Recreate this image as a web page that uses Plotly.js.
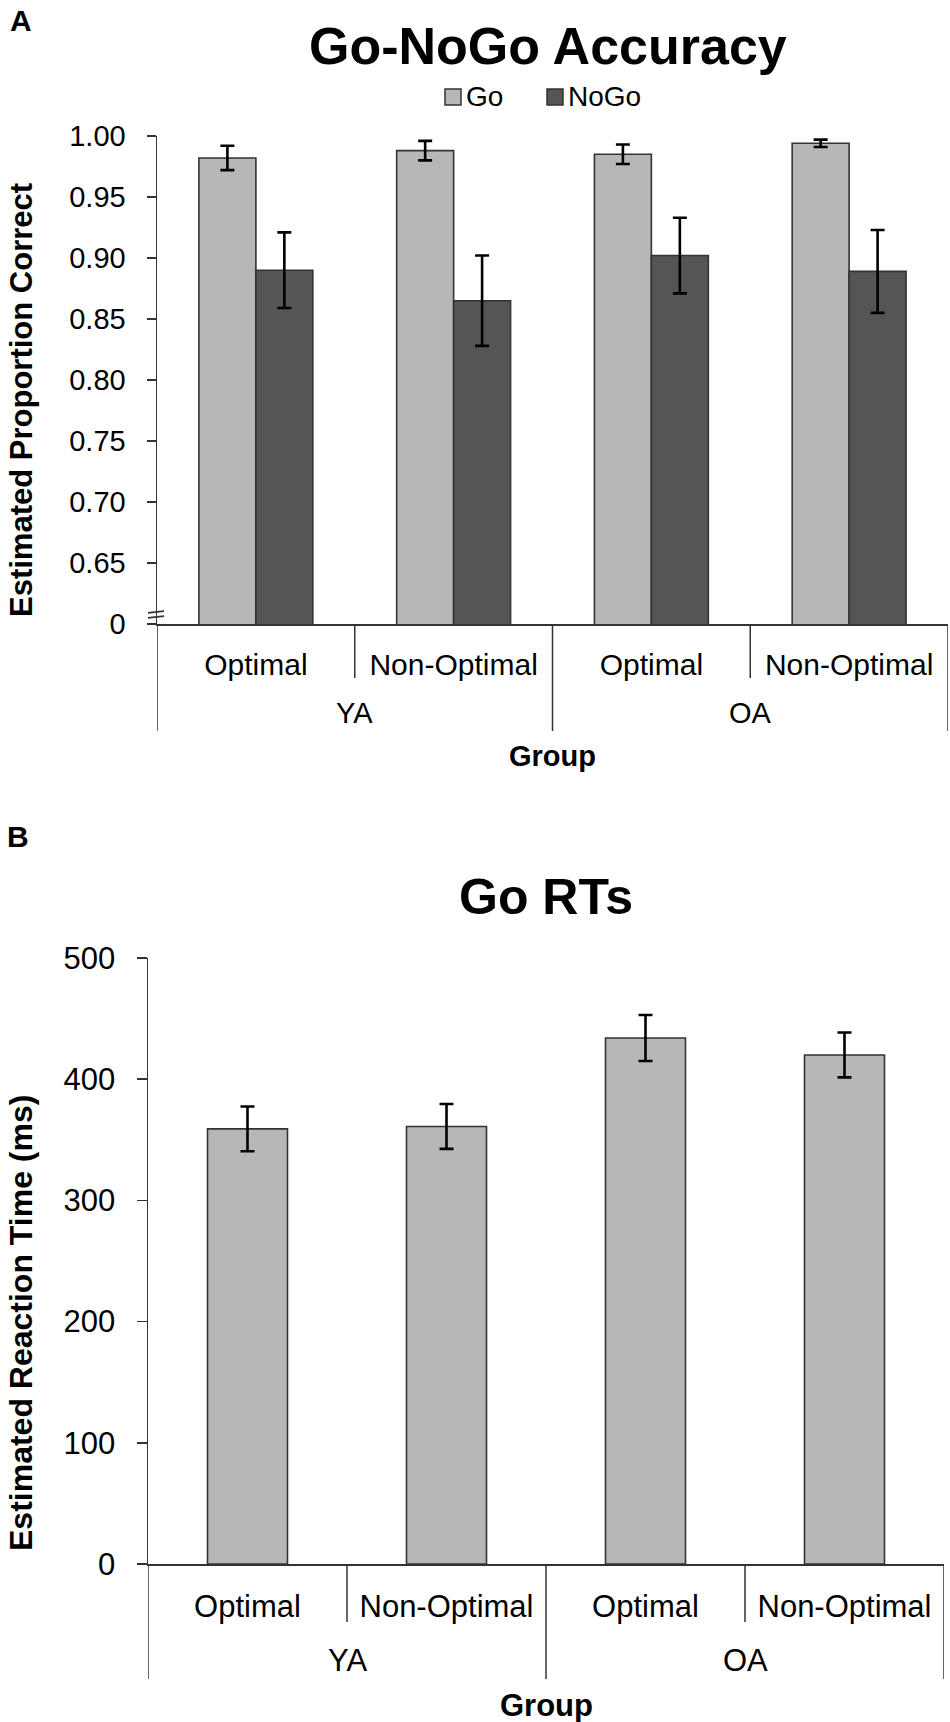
<!DOCTYPE html>
<html>
<head>
<meta charset="utf-8">
<script src="https://cdn.plot.ly/plotly-3.0.1.min.js"></script>
<style>
  html, body { margin: 0; padding: 0; background: #fff; }
  #plot { width: 950px; height: 1722px; }
</style>
</head>
<body>
<div id="plot"></div>
<script>
// categories
const groups = ['YA', 'YA', 'OA', 'OA'];
const conditions = ['Optimal', 'Non-Optimal', 'Optimal', 'Non-Optimal'];
const seriesNames = ['Go', 'NoGo'];

// panel A: estimated proportion correct
const goAcc = [0.982, 0.988, 0.985, 0.994];
const goAccErr = [0.010, 0.008, 0.008, 0.003];
const nogoAcc = [0.890, 0.865, 0.902, 0.889];
const nogoAccErr = [0.031, 0.037, 0.031, 0.034];
const accTickVals = [0.60, 0.65, 0.70, 0.75, 0.80, 0.85, 0.90, 0.95, 1.00];
const accTickText = ['0', '0.65', '0.70', '0.75', '0.80', '0.85', '0.90', '0.95', '1.00'];

// panel B: estimated reaction time (ms)
const goRT = [359, 361, 434, 420];
const goRTErr = [18.5, 18.5, 19, 18.5];
const rtTickVals = [0, 100, 200, 300, 400, 500];

const W = 950, H = 1722;
const px = x => x / W;          // pixel -> paper x
const py = y => 1 - y / H;      // pixel -> paper y
const FONT = 'Liberation Sans, Arial, sans-serif';
const LINE = '#333333';
const GO_COL = '#b7b7b7', NOGO_COL = '#555555';

const cats = groups.map((g, i) => g + ' ' + conditions[i]);

function errBar(arr) {
    return {type: 'data', array: arr, visible: true, color: '#000', thickness: 2.6, width: 7};
}

const data = [
    {type: 'bar', x: cats, y: goAcc, name: seriesNames[0], xaxis: 'x', yaxis: 'y',
     width: 0.288, offset: -0.288, marker: {color: GO_COL, line: {color: LINE, width: 1.6}},
     error_y: errBar(goAccErr), showlegend: false, hoverinfo: 'y'},
    {type: 'bar', x: cats, y: nogoAcc, name: seriesNames[1], xaxis: 'x', yaxis: 'y',
     width: 0.288, offset: 0, marker: {color: NOGO_COL, line: {color: LINE, width: 1.6}},
     error_y: errBar(nogoAccErr), showlegend: false, hoverinfo: 'y'},
    {type: 'bar', x: cats, y: goRT, name: seriesNames[0], xaxis: 'x2', yaxis: 'y2',
     width: 0.402, marker: {color: GO_COL, line: {color: LINE, width: 1.6}},
     error_y: errBar(goRTErr), showlegend: false, hoverinfo: 'y'}
];

// panel geometry in pixels
const A = {l: 157, r: 948, t: 136, b: 624};
const B = {l: 148, r: 944, t: 958, b: 1564};

function xAxis(dom, anchor) {
    return {
        domain: dom, anchor: anchor, type: 'category', range: [-0.5, 3.5],
        categoryorder: 'array', categoryarray: cats,
        tickvals: cats, ticktext: conditions, ticks: '',
        showline: true, linecolor: LINE, linewidth: 1.5,
        showgrid: false, zeroline: false, fixedrange: true
    };
}

const layout = {
    width: W, height: H,
    margin: {l: 0, r: 0, t: 0, b: 0},
    paper_bgcolor: '#fff', plot_bgcolor: '#fff',
    barmode: 'group',
    showlegend: false,
    font: {family: FONT, color: '#000', size: 28},
    xaxis: Object.assign(xAxis([px(A.l), px(A.r)], 'y'), {
        tickfont: {size: 30}, ticklabelstandoff: 13
    }),
    yaxis: {
        domain: [py(A.b), py(A.t)], anchor: 'x', range: [0.60, 1.00],
        tickvals: accTickVals, ticktext: accTickText, tickfont: {size: 29},
        ticks: 'outside', ticklen: 9, tickwidth: 1.5, tickcolor: LINE, ticklabelstandoff: 15,
        showline: true, linecolor: LINE, linewidth: 1.5,
        showgrid: false, zeroline: false, fixedrange: true
    },
    xaxis2: Object.assign(xAxis([px(B.l), px(B.r)], 'y2'), {
        tickfont: {size: 31}, ticklabelstandoff: 14
    }),
    yaxis2: {
        domain: [py(B.b), py(B.t)], anchor: 'x2', range: [0, 500],
        tickvals: rtTickVals, tickfont: {size: 31},
        ticks: 'outside', ticklen: 10, tickwidth: 1.5, tickcolor: LINE, ticklabelstandoff: 15,
        showline: true, linecolor: LINE, linewidth: 1.5,
        showgrid: false, zeroline: false, fixedrange: true
    },
    shapes: [],
    annotations: []
};

// category dividers below each x axis
function dividers(xref, top, shortBot, longBot) {
    const out = [];
    for (let i = 0; i <= cats.length; i++) {
        const isGroupEdge = i === 0 || i === cats.length || groups[i] !== groups[i - 1];
        out.push({type: 'line', xref: xref, yref: 'paper', x0: i - 0.5, x1: i - 0.5,
                  y0: py(top), y1: py(isGroupEdge ? longBot : shortBot),
                  line: {color: LINE, width: 1.5}});
    }
    return out;
}
layout.shapes.push(...dividers('x', A.b, 678, 731));
layout.shapes.push(...dividers('x2', B.b, 1622, 1679));

// axis break marks on panel A
[612, 617].forEach(yy => {
    layout.shapes.push({type: 'line', xref: 'paper', yref: 'paper',
        x0: px(148), x1: px(164), y0: py(yy + 0.8), y1: py(yy - 0.8),
        line: {color: LINE, width: 1.8}});
});

// legend drawn by hand (square swatches like the original)
const legendItems = [{name: seriesNames[0], col: GO_COL, x: 445}, {name: seriesNames[1], col: NOGO_COL, x: 547}];
legendItems.forEach(it => {
    layout.shapes.push({type: 'rect', xref: 'paper', yref: 'paper',
        x0: px(it.x), x1: px(it.x + 16), y0: py(105), y1: py(89),
        fillcolor: it.col, line: {color: LINE, width: 1.5}});
    layout.annotations.push({xref: 'paper', yref: 'paper', x: px(it.x + 19), y: py(97),
        xanchor: 'left', yanchor: 'middle', text: it.name, showarrow: false,
        font: {size: 28}});
});

// group labels
function groupLabels(xref, yPix, size) {
    const seen = [];
    groups.forEach(g => { if (!seen.includes(g)) seen.push(g); });
    return seen.map(g => {
        const idx = groups.map((v, i) => v === g ? i : -1).filter(i => i >= 0);
        const mid = (idx[0] + idx[idx.length - 1]) / 2;
        return {xref: xref, yref: 'paper', x: mid, y: py(yPix), text: g, showarrow: false,
                xanchor: 'center', yanchor: 'middle', font: {size: size}};
    });
}
layout.annotations.push(...groupLabels('x', 713, 29));
layout.annotations.push(...groupLabels('x2', 1660, 31));

function txt(x, y, text, size, bold, extra) {
    return Object.assign({xref: 'paper', yref: 'paper', x: px(x), y: py(y), showarrow: false,
        xanchor: 'center', yanchor: 'middle',
        text: bold ? '<b>' + text + '</b>' : text, font: {size: size}}, extra || {});
}

layout.annotations.push(
    txt(21, 20, 'A', 30, true),
    txt(548, 46, 'Go-NoGo Accuracy', 52, true),
    txt(22, 400, 'Estimated Proportion Correct', 31, true, {textangle: -90}),
    txt((A.l + A.r) / 2, 756, 'Group', 29, true),
    txt(18, 836, 'B', 30, true),
    txt(546, 897, 'Go RTs', 50, true),
    txt(21, 1323, 'Estimated Reaction Time (ms)', 32, true, {textangle: -90}),
    txt((B.l + B.r) / 2, 1705, 'Group', 31, true)
);

Plotly.newPlot('plot', data, layout, {staticPlot: true});
</script>
</body>
</html>
